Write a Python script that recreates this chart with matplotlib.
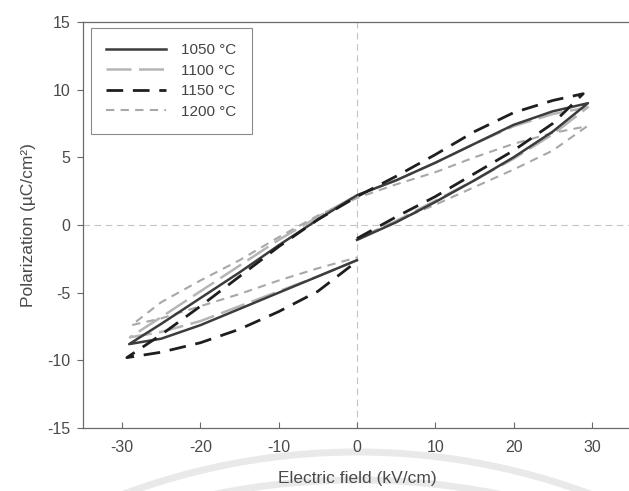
import matplotlib
matplotlib.use("Agg")
import matplotlib.pyplot as plt
from matplotlib.patches import Arc

plt.rcParams['font.family'] = ['Liberation Sans', 'DejaVu Sans']
plt.rcParams['axes.unicode_minus'] = False

# P-E loops: each path starts at E=0 on the rising branch, goes to the positive tip,
# back along the descending branch to the negative tip, then returns towards E=0
E_1050 = [0, 5, 10, 15, 20, 25, 29.5, 25, 20, 15, 10, 5, 0, -5, -10, -15, -20, -25, -29.1, -25, -20, -15, -10, -5, 0]
P_1050 = [-1.1, 0.2, 1.7, 3.3, 5.0, 6.9, 9.0, 8.4, 7.4, 6.0, 4.6, 3.3, 2.2, 0.4, -1.5, -3.5, -5.4, -7.3, -8.8, -8.4, -7.4, -6.2, -5.0, -3.8, -2.6]

E_1100 = [0, 5, 10, 15, 20, 25, 29.5, 25, 20, 15, 10, 5, 0, -5, -10, -15, -20, -25, -29.0, -25, -20, -15, -10, -5, 0]
P_1100 = [-1.1, 0.3, 1.8, 3.3, 4.9, 6.7, 8.7, 8.2, 7.3, 6.0, 4.6, 3.3, 2.2, 0.6, -1.1, -3.0, -4.9, -6.8, -8.3, -7.9, -7.1, -6.0, -4.9, -3.8, -2.6]

E_1150 = [0, 5, 10, 15, 20, 25, 28.9, 25, 20, 15, 10, 5, 0, -5, -10, -15, -20, -25, -29.4, -25, -20, -15, -10, -5, -0.5]
P_1150 = [-1.0, 0.6, 2.1, 3.8, 5.5, 7.5, 9.7, 9.2, 8.3, 6.9, 5.2, 3.6, 2.1, 0.4, -1.6, -3.8, -6.0, -8.1, -9.8, -9.4, -8.7, -7.7, -6.4, -4.9, -2.9]

E_1200 = [0, 5, 10, 15, 20, 25, 29.4, 25, 20, 15, 10, 5, 0, -5, -10, -15, -20, -25, -28.8, -25, -20, -15, -10, -5, 0]
P_1200 = [-1.0, 0.3, 1.5, 2.8, 4.1, 5.5, 7.3, 6.8, 6.0, 5.0, 3.9, 3.0, 2.0, 0.7, -0.9, -2.6, -4.1, -5.7, -7.4, -6.9, -6.0, -5.1, -4.1, -3.2, -2.4]

labels = ['1050 \u00b0C', '1100 \u00b0C', '1150 \u00b0C', '1200 \u00b0C']

fig = plt.figure(figsize=(6.29, 4.91), dpi=100)

# faint circular watermark behind the x label
bg = fig.add_axes([0, 0, 1, 1], zorder=0)
bg.set_xlim(0, 629)
bg.set_ylim(491, 0)
bg.axis('off')
bg.add_patch(Arc((357, 452 + 668), 2 * 668, 2 * 668, theta1=180, theta2=360,
                 color='#e9e9e9', lw=5))
bg.add_patch(Arc((357, 480 + 720), 2 * 720, 2 * 720, theta1=180, theta2=360,
                 color='#e9e9e9', lw=5))

ax = fig.add_axes([83 / 629, 1 - 428 / 491, 548 / 629, 406 / 491], zorder=1)
ax.set_facecolor('none')

ax.axhline(0, color='#c4c4c4', lw=0.8, dashes=(6, 4), zorder=1)
ax.axvline(0, color='#c4c4c4', lw=0.8, dashes=(6, 4), zorder=1)

ax.plot(E_1050, P_1050, color='#3c3c3c', lw=1.8, label=labels[0], zorder=3)
ax.plot(E_1100, P_1100, color='#b5b5b5', lw=1.8, dashes=(10, 3), label=labels[1], zorder=2)
ax.plot(E_1150, P_1150, color='#1e1e1e', lw=2.0, dashes=(6, 3.5), label=labels[2], zorder=4)
ax.plot(E_1200, P_1200, color='#a8a8a8', lw=1.5, dashes=(4, 3), label=labels[3], zorder=2)

ax.set_xlim(-35, 35)
ax.set_ylim(-15, 15)
ax.set_xticks([-30, -20, -10, 0, 10, 20, 30])
ax.set_yticks([-15, -10, -5, 0, 5, 10, 15])

for s in ax.spines.values():
    s.set_color('#6a6a6a')
    s.set_linewidth(0.9)
ax.tick_params(axis='x', direction='in', length=4, color='#6a6a6a', labelsize=11.5,
               labelcolor='#4a4a4a', pad=9)
ax.tick_params(axis='y', direction='out', length=4, color='#6a6a6a', labelsize=11.5,
               labelcolor='#4a4a4a', pad=5)

ax.set_xlabel('Electric field (kV/cm)', fontsize=12.5, color='#4a4a4a', labelpad=11)
ax.set_ylabel('Polarization (\u00b5C/cm\u00b2)', fontsize=12.5, color='#4a4a4a', labelpad=8)

leg = ax.legend(loc='upper left', bbox_to_anchor=(0.0146, 0.985), borderaxespad=0,
                fontsize=11, handlelength=3.9, handletextpad=1.0, labelspacing=0.42,
                borderpad=1.0, fancybox=False, framealpha=1)
leg.get_frame().set_edgecolor('#8a8a8a')
leg.get_frame().set_linewidth(0.8)
for t in leg.get_texts():
    t.set_color('#444444')

fig.savefig('out.png', dpi=100)
